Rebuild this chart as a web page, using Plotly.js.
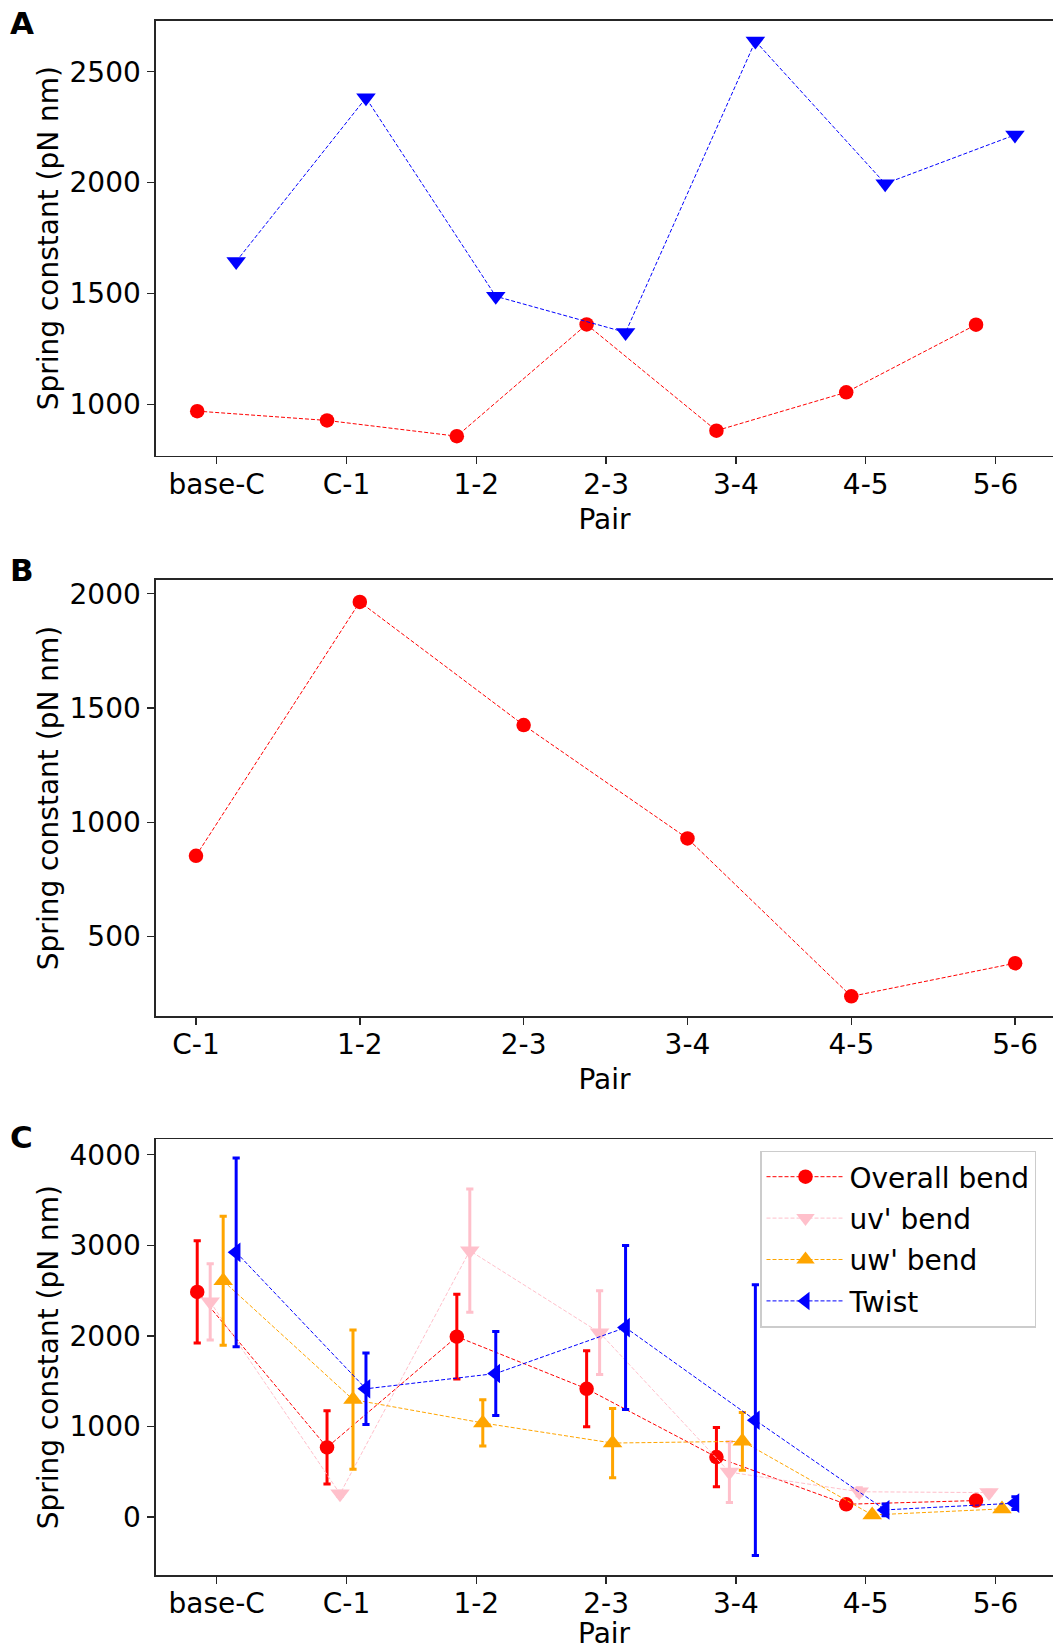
<!DOCTYPE html>
<html>
<head>
<meta charset="utf-8">
<script src="https://cdn.plot.ly/plotly-3.0.1.min.js"></script>
<style>
  html, body { margin: 0; padding: 0; background: #ffffff; overflow: hidden; }
  #chart { width: 1053px; height: 1649px; }
</style>
</head>
<body>
<div id="chart"></div>
<script>
// ---------------- data ----------------
const pairsAC = ['base-C', 'C-1', '1-2', '2-3', '3-4', '4-5', '5-6'];
const pairsB = ['C-1', '1-2', '2-3', '3-4', '4-5', '5-6'];

// Panel A
const aRed = [969, 927, 856, 1360, 881, 1054, 1359];
const aBlue = [1644, 2382, 1487, 1324, 2638, 1995, 2215];

// Panel B
const bRed = [853, 1964, 1425, 929, 238, 383];

// Panel C (value and symmetric error)
const cOverall = [2485, 768, 1991, 1415, 661, 140, 181];
const cOverallErr = [565, 405, 467, 419, 327, 20, 20];
const cUv = [2375, 255, 2940, 2035, 495, 278, 269];
const cUvErr = [420, 30, 680, 462, 336, 45, 25];
const cUw = [2607, 1296, 1038, 816, 835, 22, 89];
const cUwErr = [712, 768, 255, 382, 318, 15, 15];
const cTwist = [2922, 1415, 1584, 2091, 1068, 78, 152];
const cTwistErr = [1042, 394, 465, 905, 1495, 65, 70];

const seriesNames = ['Overall bend', "uv' bend", "uw' bend", 'Twist'];
const xTitle = 'Pair';
const yTitle = 'Spring constant (pN nm)';

// ---------------- styling ----------------
const FONT = 'DejaVu Sans, Liberation Sans, sans-serif';
const FS = 28;
const W = 1053, H = 1649;
const dash = '4px,2px';
const idx = arr => arr.map((_, i) => i);
const shift = (arr, d) => idx(arr).map(i => i + d);

function lineTrace(xa, ya, x, y, color, symbol, name, size, showlegend, err) {
  const t = {
    type: 'scatter', mode: 'lines+markers', name: name,
    x: x, y: y, xaxis: xa, yaxis: ya,
    line: {color: color, width: 1, dash: dash},
    marker: {color: color, symbol: symbol, size: size, line: {width: 0}},
    showlegend: showlegend, cliponaxis: false,
    legendgroup: name
  };
  if (err) {
    t.error_y = {type: 'data', array: err, visible: true, color: color, thickness: 3, width: 3.6};
  }
  return t;
}

const traces = [
  // Panel A
  lineTrace('x', 'y', shift(pairsAC, -0.15), aRed, 'red', 'circle', 'Overall bend (A)', 14.5, false),
  lineTrace('x', 'y', shift(pairsAC, 0.15), aBlue, 'blue', 'triangle-down', 'Twist (A)', 17, false),
  // Panel B
  lineTrace('x2', 'y2', idx(pairsB), bRed, 'red', 'circle', 'Overall bend (B)', 14.5, false),
  // Panel C
  lineTrace('x3', 'y3', shift(pairsAC, -0.15), cOverall, 'red', 'circle', seriesNames[0], 14.5, true, cOverallErr),
  lineTrace('x3', 'y3', shift(pairsAC, -0.05), cUv, 'pink', 'triangle-down', seriesNames[1], 17, true, cUvErr),
  lineTrace('x3', 'y3', shift(pairsAC, 0.05), cUw, 'orange', 'triangle-up', seriesNames[2], 17, true, cUwErr),
  lineTrace('x3', 'y3', shift(pairsAC, 0.15), cTwist, 'blue', 'triangle-left', seriesNames[3], 17, true, cTwistErr)
];

const xDom = [156 / W, 1];
function xAxis(cats, range, anchor, withTitle) {
  return {
    domain: xDom, anchor: anchor, range: range,
    tickmode: 'array', tickvals: idx(cats), ticktext: cats,
    showline: true, linecolor: '#262626', linewidth: 1.6, mirror: true,
    ticks: 'outside', ticklen: 7, tickwidth: 1.4, tickcolor: '#262626',
    tickfont: {family: FONT, size: FS, color: '#000'},
    ticklabelstandoff: -4,
    showgrid: false, zeroline: false, automargin: false,
    title: {text: withTitle ? xTitle : '', font: {family: FONT, size: FS, color: '#000'}, standoff: 9}
  };
}
function yAxis(dom, range, dtick, anchor) {
  return {
    domain: dom, anchor: anchor, range: range, dtick: dtick, tick0: 0,
    showline: true, linecolor: '#262626', linewidth: 1.6, mirror: false,
    ticks: 'outside', ticklen: 7, tickwidth: 1.4, tickcolor: '#262626',
    tickfont: {family: FONT, size: FS, color: '#000'},
    ticklabelstandoff: 1,
    showgrid: false, zeroline: false, automargin: false,
    title: {text: yTitle, font: {family: FONT, size: FS, color: '#000'}, standoff: 3}
  };
}
const yd = (top, bot) => [1 - bot / H, 1 - top / H];

const layout = {
  width: W, height: H,
  margin: {l: 0, r: 0, t: 0, b: 0, pad: 0},
  paper_bgcolor: '#ffffff', plot_bgcolor: '#ffffff',
  font: {family: FONT, size: FS, color: '#000'},
  xaxis: xAxis(pairsAC, [-0.4676, 6.443], 'y', true),
  yaxis: yAxis(yd(20.7, 455.7), [768, 2730], 500, 'x'),
  xaxis2: xAxis(pairsB, [-0.244, 5.231], 'y2', true),
  yaxis2: yAxis(yd(580, 1016), [152, 2060], 500, 'x2'),
  xaxis3: xAxis(pairsAC, [-0.4676, 6.443], 'y3', false),
  yaxis3: yAxis(yd(1139.3, 1575), [-641, 4170], 1000, 'x3'),
  showlegend: true,
  legend: {
    x: 760 / W, y: 1 - 1150.5 / H, xanchor: 'left', yanchor: 'top',
    bgcolor: 'rgba(255,255,255,0.8)', bordercolor: '#cccccc', borderwidth: 1.5,
    font: {family: FONT, size: FS, color: '#000'},
    traceorder: 'grouped', tracegroupgap: 2, itemwidth: 78
  },
  annotations: [
    {text: '<b>A</b>', x: 8 / W, y: 1 - 3 / H, xref: 'paper', yref: 'paper', xanchor: 'left', yanchor: 'top', showarrow: false, font: {family: FONT, size: 31, color: '#000'}},
    {text: '<b>B</b>', x: 8 / W, y: 1 - 550 / H, xref: 'paper', yref: 'paper', xanchor: 'left', yanchor: 'top', showarrow: false, font: {family: FONT, size: 31, color: '#000'}},
    {text: '<b>C</b>', x: 8 / W, y: 1 - 1117 / H, xref: 'paper', yref: 'paper', xanchor: 'left', yanchor: 'top', showarrow: false, font: {family: FONT, size: 31, color: '#000'}},
    // x-axis title of panel C, sitting on the bottom edge of the figure
    {text: xTitle, xref: 'x3 domain', x: 0.5, yref: 'paper', y: 0, xanchor: 'center', yanchor: 'bottom', borderpad: 0, yshift: -2, showarrow: false, font: {family: FONT, size: FS, color: '#000'}}
  ]
};

Plotly.newPlot('chart', traces, layout, {staticPlot: true, displayModeBar: false});
</script>
</body>
</html>
